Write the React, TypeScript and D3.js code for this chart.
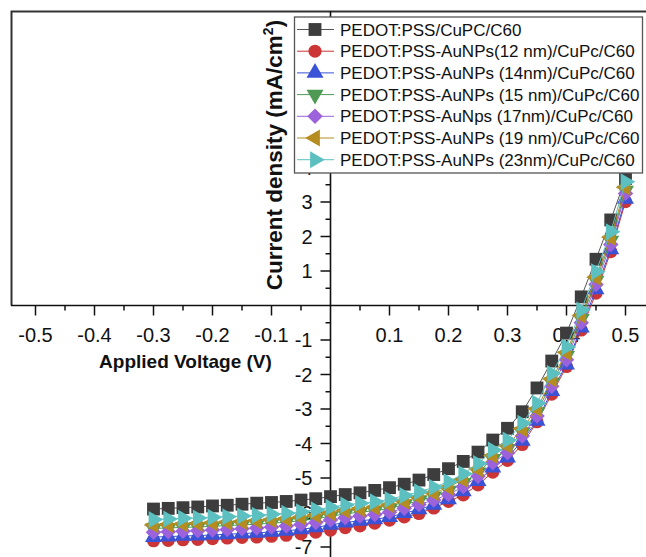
import React, { useEffect, useRef } from 'react';
import * as d3 from 'd3';

// Applied voltage (V), one reading every 25 mV
const voltage = [
  -0.3, -0.275, -0.25, -0.225, -0.2, -0.175, -0.15, -0.125, -0.1, -0.075, -0.05, -0.025,
  0, 0.025, 0.05, 0.075, 0.1, 0.125, 0.15, 0.175, 0.2, 0.225, 0.25, 0.275, 0.3, 0.325,
  0.35, 0.375, 0.4, 0.425, 0.45, 0.475, 0.5,
];

// Current density (mA/cm2)
const refDevice = [
  -5.9, -5.88, -5.86, -5.84, -5.81, -5.79, -5.76, -5.73, -5.71, -5.68, -5.64, -5.6,
  -5.54, -5.48, -5.43, -5.36, -5.28, -5.18, -5.06, -4.9, -4.73, -4.52, -4.25, -3.9, -3.56, -3.08,
  -2.39, -1.61, -0.8, 0.25, 1.34, 2.48, 3.68,
];
const au12 = [
  -6.82, -6.81, -6.79, -6.78, -6.76, -6.74, -6.72, -6.71, -6.69, -6.66, -6.62, -6.57,
  -6.51, -6.44, -6.39, -6.31, -6.22, -6.13, -6.03, -5.87, -5.68, -5.49, -5.2, -4.83, -4.49, -4.03,
  -3.37, -2.57, -1.77, -0.71, 0.36, 1.56, 3.01,
];
const au14 = [
  -6.71, -6.7, -6.68, -6.67, -6.65, -6.63, -6.61, -6.59, -6.56, -6.53, -6.49, -6.43,
  -6.36, -6.29, -6.24, -6.2, -6.13, -6.02, -5.91, -5.78, -5.62, -5.39, -5.09, -4.7, -4.41, -3.92,
  -3.34, -2.48, -1.71, -0.64, 0.47, 1.63, 3.09,
];
const au15 = [
  -6.46, -6.45, -6.43, -6.42, -6.4, -6.38, -6.36, -6.34, -6.31, -6.28, -6.24, -6.18,
  -6.11, -6.04, -5.99, -5.95, -5.88, -5.77, -5.66, -5.53, -5.37, -5.14, -4.84, -4.45, -4.16, -3.67,
  -3.09, -2.23, -1.46, -0.39, 0.72, 1.88, 3.33,
];
const au17 = [
  -6.57, -6.56, -6.54, -6.53, -6.51, -6.49, -6.47, -6.45, -6.42, -6.39, -6.35, -6.29,
  -6.22, -6.15, -6.1, -6.06, -5.99, -5.88, -5.77, -5.64, -5.48, -5.25, -4.95, -4.56, -4.27, -3.78,
  -3.2, -2.34, -1.57, -0.5, 0.61, 1.77, 3.25,
];
const au19 = [
  -6.36, -6.35, -6.33, -6.32, -6.3, -6.28, -6.26, -6.24, -6.21, -6.18, -6.14, -6.08,
  -6.01, -5.94, -5.89, -5.85, -5.78, -5.67, -5.56, -5.43, -5.27, -5.04, -4.74, -4.35, -4.06, -3.57,
  -2.99, -2.13, -1.36, -0.29, 0.82, 1.98, 3.43,
];
const au23 = [
  -6.2, -6.19, -6.17, -6.16, -6.14, -6.12, -6.1, -6.08, -6.05, -6.02, -5.98, -5.92,
  -5.85, -5.78, -5.73, -5.69, -5.62, -5.51, -5.4, -5.27, -5.11, -4.88, -4.58, -4.19, -3.9, -3.41,
  -2.83, -1.97, -1.2, -0.13, 0.98, 2.14, 3.59,
];

const seriesNames = [
  'PEDOT:PSS/CuPC/C60',
  'PEDOT:PSS-AuNPs(12 nm)/CuPc/C60',
  'PEDOT:PSS-AuNPs (14nm)/CuPc/C60',
  'PEDOT:PSS-AuNPs (15 nm)/CuPc/C60',
  'PEDOT:PSS-AuNps (17nm)/CuPc/C60',
  'PEDOT:PSS-AuNPs (19 nm)/CuPc/C60',
  'PEDOT:PSS-AuNPs (23nm)/CuPc/C60',
];
const seriesValues = [refDevice, au12, au14, au15, au17, au19, au23];
const seriesColors = ['#3d3d3d', '#cc3535', '#3a52d6', '#4e9a55', '#9b62dc', '#b58c1f', '#5cc0c0'];
const lineColors = ['#555555', '#cc3535', '#3a52d6', '#4e9a55', '#9b62dc', '#b58c1f', '#5cc0c0'];

const xTicks = [-0.5, -0.4, -0.3, -0.2, -0.1, 0.1, 0.2, 0.3, 0.4, 0.5];
const yTicks = [-7, -6, -5, -4, -3, -2, -1, 1, 2, 3, 4, 5, 6, 7, 8];

const font = '"Liberation Sans", Arial, sans-serif';

// shape + rotation per series (Origin style markers)
const markers = [
  { type: d3.symbolSquare, size: 165, rot: 0 },
  { type: d3.symbolCircle, size: 135, rot: 0 },
  { type: d3.symbolTriangle, size: 125, rot: 0 },
  { type: d3.symbolTriangle, size: 125, rot: 180 },
  { type: d3.symbolSquare, size: 120, rot: 45 },
  { type: d3.symbolTriangle, size: 125, rot: -90 },
  { type: d3.symbolTriangle, size: 125, rot: 90 },
];

const App = () => {
  const ref = useRef<SVGSVGElement>(null);

  useEffect(() => {
    const svg = d3.select(ref.current);
    svg.selectAll('*').remove();

    const x = d3.scaleLinear().domain([-0.5, 0.5]).range([35.5, 625.5]);
    const y = d3.scaleLinear().domain([-7, 3]).range([547, 202]);
    const x0 = x(0);
    const y0 = y(0);

    // plot frame (top and left)
    svg.append('path')
      .attr('d', `M11.5,${y0} L11.5,11.5 L646,11.5`)
      .attr('fill', 'none')
      .attr('stroke', '#333')
      .attr('stroke-width', 2);

    // axes through the origin
    svg.append('line')
      .attr('x1', 11).attr('x2', 646)
      .attr('y1', y0).attr('y2', y0)
      .attr('stroke', '#111').attr('stroke-width', 1.6);
    svg.append('line')
      .attr('x1', x0).attr('x2', x0)
      .attr('y1', 11).attr('y2', 557)
      .attr('stroke', '#111').attr('stroke-width', 1.6);

    // x ticks (major + minor, pointing down)
    const xMinor = d3.range(-0.45, 0.55, 0.1);
    svg.append('g').selectAll('line')
      .data(xTicks)
      .enter().append('line')
      .attr('x1', d => x(d)).attr('x2', d => x(d))
      .attr('y1', y0).attr('y2', y0 + 10)
      .attr('stroke', '#111').attr('stroke-width', 1.5);
    svg.append('g').selectAll('line')
      .data(xMinor)
      .enter().append('line')
      .attr('x1', d => x(d)).attr('x2', d => x(d))
      .attr('y1', y0).attr('y2', y0 + 5)
      .attr('stroke', '#111').attr('stroke-width', 1.5);
    svg.append('g').selectAll('text')
      .data(xTicks)
      .enter().append('text')
      .attr('x', d => x(d))
      .attr('y', y0 + 36)
      .attr('text-anchor', 'middle')
      .attr('font-family', font)
      .attr('font-size', 20)
      .attr('fill', '#111')
      .text(d => d3.format('.1f')(d).replace('−', '-'));

    // y ticks (major + minor, pointing left)
    const yMinor = d3.range(-7.5, 8.5, 1);
    svg.append('g').selectAll('line')
      .data(yTicks)
      .enter().append('line')
      .attr('x1', x0 - 10).attr('x2', x0)
      .attr('y1', d => y(d)).attr('y2', d => y(d))
      .attr('stroke', '#111').attr('stroke-width', 1.5);
    svg.append('g').selectAll('line')
      .data(yMinor)
      .enter().append('line')
      .attr('x1', x0 - 5).attr('x2', x0)
      .attr('y1', d => y(d)).attr('y2', d => y(d))
      .attr('stroke', '#111').attr('stroke-width', 1.5);
    svg.append('g').selectAll('text')
      .data(yTicks)
      .enter().append('text')
      .attr('x', x0 - 18)
      .attr('y', d => y(d))
      .attr('dy', '0.36em')
      .attr('text-anchor', 'end')
      .attr('font-family', font)
      .attr('font-size', 20)
      .attr('fill', '#111')
      .text(d => String(d));

    // axis titles
    svg.append('text')
      .attr('x', 185.5)
      .attr('y', y0 + 62)
      .attr('text-anchor', 'middle')
      .attr('font-family', font)
      .attr('font-size', 19)
      .attr('font-weight', 'bold')
      .attr('fill', '#111')
      .text('Applied Voltage (V)');

    const yTitle = svg.append('text')
      .attr('transform', `translate(282,155) rotate(-90)`)
      .attr('text-anchor', 'middle')
      .attr('font-family', font)
      .attr('font-size', 22.5)
      .attr('font-weight', 'bold')
      .attr('fill', '#111');
    yTitle.append('tspan').text('Current density (mA/cm');
    yTitle.append('tspan').attr('font-size', 14).attr('dy', -9).text('2');
    yTitle.append('tspan').attr('dy', 9).text(')');

    // curves
    const line = d3.line<number>()
      .x((d, i) => x(voltage[i]))
      .y(d => y(d));

    seriesValues.forEach((vals, s) => {
      const g = svg.append('g');
      g.append('path')
        .attr('d', line(vals))
        .attr('fill', 'none')
        .attr('stroke', lineColors[s])
        .attr('stroke-width', 1);
      const m = markers[s];
      g.selectAll('path.pt')
        .data(vals)
        .enter().append('path')
        .attr('class', 'pt')
        .attr('d', d3.symbol().type(m.type).size(m.size)())
        .attr('transform', (d, i) => `translate(${x(voltage[i])},${y(d)}) rotate(${m.rot})`)
        .attr('fill', seriesColors[s]);
    });

    // legend
    const lg = svg.append('g');
    lg.append('rect')
      .attr('x', 294.5).attr('y', 17)
      .attr('width', 348).attr('height', 156)
      .attr('fill', '#fff')
      .attr('stroke', '#555')
      .attr('stroke-width', 1.3);
    seriesNames.forEach((name, s) => {
      const cy = 29.5 + s * 21.7;
      lg.append('line')
        .attr('x1', 297).attr('x2', 334)
        .attr('y1', cy).attr('y2', cy)
        .attr('stroke', lineColors[s]).attr('stroke-width', 1);
      const m = markers[s];
      lg.append('path')
        .attr('d', d3.symbol().type(m.type).size(m.size)())
        .attr('transform', `translate(315,${cy}) rotate(${m.rot})`)
        .attr('fill', seriesColors[s]);
      lg.append('text')
        .attr('x', 340)
        .attr('y', cy + 6)
        .attr('font-family', font)
        .attr('font-size', 17)
        .attr('fill', '#111')
        .text(name);
    });
  }, []);

  return (
    <svg ref={ref} width={646} height={557}
      style={{ position: 'absolute', left: 0, top: 0, background: '#fff' }} />
  );
};

export default App;
